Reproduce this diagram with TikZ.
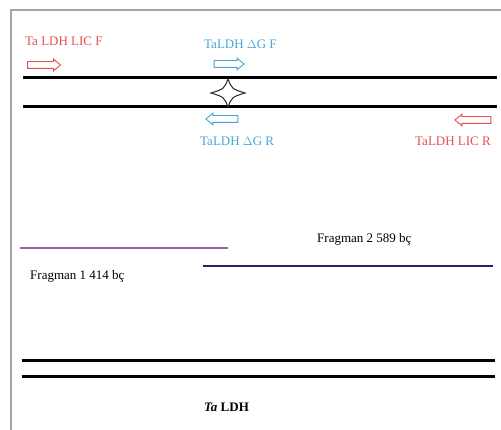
\documentclass[tikz,border=0pt]{standalone}
\usepackage{fontspec}
\setmainfont{Liberation Serif}
\usetikzlibrary{shapes.arrows}

\definecolor{licred}{RGB}{232,78,78}
\definecolor{delblue}{RGB}{72,165,215}
\definecolor{fragviolet}{RGB}{158,92,172}
\definecolor{fragnavy}{RGB}{52,30,108}
\definecolor{framegray}{RGB}{165,165,165}

\tikzset{
  strand/.style={line width=3pt,black},
  fragline/.style={line width=2.8pt},
  primer/.style={single arrow,draw=#1,line width=0.9pt,inner xsep=0pt,inner ysep=3pt,
    single arrow head extend=2.4pt,single arrow tip angle=80,minimum height=33pt},
  lbl/.style={font=\fontsize{13}{15}\selectfont,inner sep=0pt,anchor=base west},
}

\begin{document}
\begin{tikzpicture}[x=1pt,y=-1pt]
\useasboundingbox (0,0) rectangle (501,430);

% frame
\draw[framegray,line width=1.6pt] (11,430) -- (11,10) -- (501,10);

%%%%%%%%%%%%%%% primers
\node[lbl,text=licred] (licFtxt) at (25,46) {Ta LDH LIC F};
\node[primer=licred] (licF) at (42,65) {};
\node[lbl,text=delblue] (delFtxt) at (204,49) {TaLDH $\Delta$G F};
\node[primer=delblue,minimum height=30pt] (delF) at (227,64) {};
\node[primer=delblue,minimum height=32pt,shape border rotate=180] (delR) at (224,119) {};
\node[lbl,text=delblue] (delRtxt) at (200,146) {TaLDH $\Delta$G R};
\node[primer=licred,minimum height=36pt,shape border rotate=180] (licR) at (475,120) {};
\node[lbl,text=licred] (licRtxt) at (415,146) {TaLDH LIC R};

%%%%%%%%%%%%%%% upper strands
\coordinate (s1a) at (23,78);\coordinate (s1b) at (497,78);
\coordinate (s2a) at (23,107);\coordinate (s2b) at (497,107);
\draw[strand] (s1a) -- (s1b);
\draw[strand] (s2a) -- (s2b);

% cut star
\coordinate (cut) at (228,93);
\draw[line width=1pt,black!85] (228,79) .. controls (232,89) .. (245,93)
  .. controls (232,97) .. (228,107) .. controls (224,97) .. (211,93)
  .. controls (224,89) .. (228,79);

%%%%%%%%%%%%%%% fragments
\coordinate (f1a) at (20,248);\coordinate (f1b) at (228,248);
\coordinate (f2a) at (203,266);\coordinate (f2b) at (493,266);
\draw[fragline,fragviolet] (f1a) -- (f1b);
\draw[fragline,fragnavy] (f2a) -- (f2b);
\node[lbl] (frag2) at (317,243) {Fragman 2 589 bç};
\node[lbl] (frag1) at (30,280) {Fragman 1 414 bç};

%%%%%%%%%%%%%%% lower strands
\coordinate (s3a) at (22,361);\coordinate (s3b) at (495,361);
\coordinate (s4a) at (22,377);\coordinate (s4b) at (495,377);
\draw[strand] (s3a) -- (s3b);
\draw[strand] (s4a) -- (s4b);
\node[lbl,font=\fontsize{13}{15}\selectfont\bfseries] (gene) at (204,411) {\textit{Ta} LDH};

\end{tikzpicture}
\end{document}
